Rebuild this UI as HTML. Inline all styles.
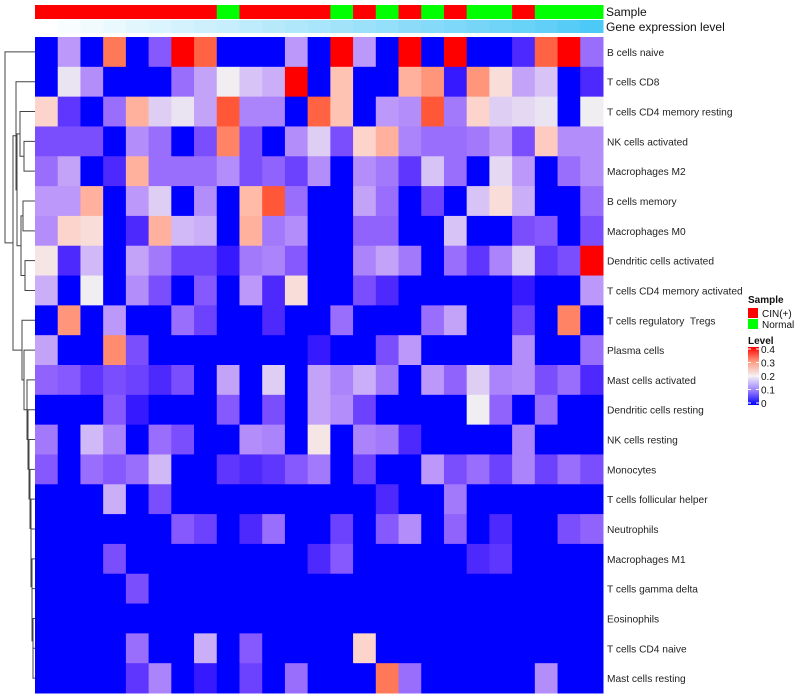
<!DOCTYPE html>
<html><head><meta charset="utf-8">
<style>
body{margin:0;background:#fff;}
svg{display:block;font-family:"Liberation Sans",sans-serif;}
#rowlabels text{white-space:pre;}
</style></head>
<body>
<svg id="chart" width="800" height="700" viewBox="0 0 800 700">
<g id="dendro" stroke="#444" stroke-width="1" fill="none"></g>
<g id="anno"></g>
<g id="cells"></g>
<g id="rowlabels" font-size="10.2" fill="#222"></g>
<text x="606" y="16" font-size="12" fill="#111">Sample</text>
<text x="606" y="31" font-size="12" fill="#111">Gene expression level</text>
<g>
<text x="748" y="303" font-size="10" font-weight="bold" fill="#111">Sample</text>
<rect x="748" y="308" width="10" height="10" fill="#FF0000"/>
<text x="762" y="317" font-size="10" fill="#111">CIN(+)</text>
<rect x="748" y="319" width="10" height="10" fill="#00FF00"/>
<text x="762" y="328" font-size="10" fill="#111">Normal</text>
<text x="748" y="344" font-size="10" font-weight="bold" fill="#111">Level</text>
<defs><linearGradient id="lg" x1="0" y1="0" x2="0" y2="1">
<stop offset="0" stop-color="#FF0000"/><stop offset="0.25" stop-color="#FF9A80"/><stop offset="0.5" stop-color="#F4F0F4"/><stop offset="0.75" stop-color="#9A80FF"/><stop offset="1" stop-color="#0000FF"/></linearGradient></defs>
<rect x="748" y="347" width="11" height="58" fill="url(#lg)"/>
<g id="lticks" font-size="10" fill="#111"></g>
</g>
</svg>
<script>
const rowNames=["B cells naive","T cells CD8","T cells CD4 memory resting","NK cells activated","Macrophages M2","B cells memory","Macrophages M0","Dendritic cells activated","T cells CD4 memory activated","T cells regulatory  Tregs","Plasma cells","Mast cells activated","Dendritic cells resting","NK cells resting","Monocytes","T cells follicular helper","Neutrophils","Macrophages M1","T cells gamma delta","Eosinophils","T cells CD4 naive","Mast cells resting"];
const sampleGroups=["CIN","CIN","CIN","CIN","CIN","CIN","CIN","CIN","Normal","CIN","CIN","CIN","CIN","Normal","CIN","Normal","CIN","Normal","CIN","Normal","Normal","CIN","Normal","Normal","Normal"];
const geneLevel=[0,0.04,0.08,0.12,0.16,0.2,0.24,0.28,0.32,0.36,0.4,0.44,0.48,0.52,0.56,0.6,0.64,0.68,0.72,0.76,0.8,0.84,0.88,0.94,1];
const legendTicks=[0.4,0.3,0.2,0.1,0];
const r0=[0,.12,0,.33,0,.06,.4,.35,0,0,0,.12,0,.4,.12,0,.4,0,.4,0,0,.02,.35,.4,.08];
const r1=[0,.19,.11,0,0,0,.08,.13,.2,.16,.14,.4,0,.25,0,0,.27,.3,.01,.3,.22,.13,.16,0,.02];
const r2=[.23,.03,0,.08,.27,.17,.19,.13,.36,.1,.1,0,.35,.25,0,.12,.11,.36,.09,.23,.17,.18,.19,0,.2];
const r3=[.05,.05,.05,0,.11,.08,0,.05,.32,.05,0,.11,.17,.05,.23,.27,.1,.08,.08,.09,.12,.05,.24,.11,.11];
const r4=[.08,.13,0,.02,.27,.08,.08,.08,.11,.05,.07,.04,.11,0,.11,.09,.03,.16,.08,0,.18,.12,0,.08,.11];
const r5=[.12,.12,.27,0,.12,.17,0,.11,0,.26,.36,.08,0,0,.13,.08,0,.04,0,.16,.22,.14,0,0,.08];
const r6=[.11,.23,.22,0,.02,.27,.15,.14,0,.27,.09,.11,0,0,.07,.07,0,0,.16,0,0,.05,.06,0,.05];
const r7=[.21,.02,.15,0,.13,.09,.04,.04,.01,.09,.1,.06,0,0,.1,.13,.09,0,.08,.03,.1,.17,.03,.05,.4];
const r8=[.14,0,.2,0,.11,.05,0,.06,0,.12,.02,.22,0,0,.05,.02,0,0,0,0,0,.01,0,0,.12];
const r9=[0,.3,0,.12,0,0,.08,.04,0,0,.02,0,0,.08,0,0,0,.08,.13,0,0,.04,0,.32,0];
const r10=[.13,0,0,.31,.05,0,0,0,0,0,0,0,.01,0,0,.05,.12,0,0,0,0,.11,0,0,.08];
const r11=[.07,.06,.03,.05,.04,.02,.05,0,.13,0,.17,0,.13,.1,.14,.09,0,.12,.07,.17,.1,.11,.05,.08,.02];
const r12=[0,0,0,.06,.01,0,0,0,.06,0,.05,0,.13,.11,.04,0,0,0,0,.2,.07,0,.08,0,0];
const r13=[.09,0,.15,.1,0,.08,.05,0,0,.11,.1,0,.21,0,.1,.09,.02,0,0,0,0,.1,0,0,0];
const r14=[.06,0,.08,.06,.08,.15,0,0,.03,.02,.03,.06,.09,0,.04,0,0,.12,.05,.08,.04,.1,.04,.08,.05];
const r15=[0,0,0,.14,0,.05,0,0,0,0,0,0,0,0,0,.02,0,0,.09,0,0,0,0,0,0];
const r16=[0,0,0,0,0,0,.06,.04,0,.02,.08,0,0,.04,0,.06,.11,0,.07,0,.02,0,0,.05,.07];
const r17=[0,0,0,.05,0,0,0,0,0,0,0,0,.02,.06,0,0,0,0,0,.02,.03,0,0,0,0];
const r18=[0,0,0,0,.05,0,0,0,0,0,0,0,0,0,0,0,0,0,0,0,0,0,0,0,0];
const r19=[0,0,0,0,0,0,0,0,0,0,0,0,0,0,0,0,0,0,0,0,0,0,0,0,0];
const r20=[0,0,0,0,.08,0,0,.14,0,.06,0,0,0,0,.23,0,0,0,0,0,0,0,0,0,0];
const r21=[0,0,0,0,.03,.1,0,.01,0,.04,0,.08,0,0,0,.33,.08,0,0,0,0,0,.11,0,0];
const values=[r0,r1,r2,r3,r4,r5,r6,r7,r8,r9,r10,r11,r12,r13,r14,r15,r16,r17,r18,r19,r20,r21];

const NS="http://www.w3.org/2000/svg";
const X0=35,X1=603,Y0=37,Y1=693;
const nC=sampleGroups.length,nR=rowNames.length;
const cw=(X1-X0)/nC,rh=(Y1-Y0)/nR;
const xPos=c=>X0+c*cw, yPos=r=>Y0+r*rh, yMid=r=>Y0+(r+0.5)*rh;
function mk(tag,at,parent){const e=document.createElementNS(NS,tag);for(const k in at)e.setAttribute(k,at[k]);parent.appendChild(e);return e;}
function toLin(c){c/=255;return c<=0.04045?c/12.92:Math.pow((c+0.055)/1.055,2.4);}
function toSrgb(c){c=c<=0.0031308?12.92*c:1.055*Math.pow(c,1/2.4)-0.055;return Math.max(0,Math.min(255,Math.round(c*255)));}
function rgb2lab(r,g,b){r=toLin(r);g=toLin(g);b=toLin(b);
let x=(0.4124*r+0.3576*g+0.1805*b)/0.95047,y=(0.2126*r+0.7152*g+0.0722*b),z=(0.0193*r+0.1192*g+0.9505*b)/1.08883;
const f=t=>t>0.008856?Math.cbrt(t):7.787*t+16/116;x=f(x);y=f(y);z=f(z);return[116*y-16,500*(x-y),200*(y-z)];}
function lab2rgb(L,a,b){let y=(L+16)/116,x=a/500+y,z=y-b/200;const fi=t=>t*t*t>0.008856?t*t*t:(t-16/116)/7.787;
x=fi(x)*0.95047;y=fi(y);z=fi(z)*1.08883;
const r=3.2406*x-1.5372*y-0.4986*z,g=-0.9689*x+1.8758*y+0.0415*z,bb=0.0557*x-0.2040*y+1.0570*z;return`rgb(${toSrgb(r)},${toSrgb(g)},${toSrgb(bb)})`;}
const cB=rgb2lab(0,0,255),cW=rgb2lab(240,238,240),cR=rgb2lab(255,0,0);
function col(v){v=Math.max(0,Math.min(0.4,v));let a,b,t;if(v<=0.2){a=cB;b=cW;t=v/0.2;}else{a=cW;b=cR;t=(v-0.2)/0.2;}
return lab2rgb(a[0]+(b[0]-a[0])*t,a[1]+(b[1]-a[1])*t,a[2]+(b[2]-a[2])*t);}

const cells=document.getElementById('cells');
values.forEach((row,r)=>row.forEach((v,c)=>{
 const e=mk('rect',{x:xPos(c),y:yPos(r),width:cw+0.5,height:rh+0.5,fill:col(v)},cells);
 
 
}));
const anno=document.getElementById('anno');
sampleGroups.forEach((g,c)=>{
 const e=mk('rect',{x:xPos(c),y:5,width:cw+0.5,height:14,fill:g==="CIN"?"#FF0000":"#00FF00"},anno);
 
 
});
geneLevel.forEach((g,c)=>{
 const r=Math.round(255+(76-255)*g),gg=Math.round(255+(201-255)*g),b=Math.round(255+(246-255)*g);
 const e=mk('rect',{x:xPos(c),y:20,width:cw+0.5,height:13,fill:`rgb(${r},${gg},${b})`},anno);
 
 
});
const rl=document.getElementById('rowlabels');
rowNames.forEach((n,r)=>{
 const e=mk('text',{x:607,y:yMid(r)+4},rl);e.textContent=n;
 
 
});
const lt=document.getElementById('lticks');
legendTicks.forEach(t=>{
 const y=349+(0.4-t)/0.4*54;
 const ln=mk('line',{x1:748,x2:751,y1:y,y2:y,stroke:'#fff'},lt);
 
 
 const ln2=mk('line',{x1:756,x2:759,y1:y,y2:y,stroke:'#fff'},lt);
 
 
 const e=mk('text',{x:761,y:y+4},lt);e.textContent=String(t);
 
 
});
const dg=document.getElementById('dendro');
function leaf(i){return{y:yMid(i),x:X0};}
function join(a,b,x){const p=mk('path',{d:`M${a.x},${a.y}H${x}V${b.y}H${b.x}`},dg);
 
 
 return{x:x,y:(a.y+b.y)/2};}
const n34=join(leaf(3),leaf(4),24);
const n234=join(leaf(2),n34,20);
const n56=join(leaf(5),leaf(6),23);
const n78=join(leaf(7),leaf(8),25);
const n5678=join(n56,n78,21);
const n2_8=join(n234,n5678,17);
const nB=join(leaf(1),n2_8,16);
let chain=join(leaf(20),leaf(21),33);
const lx=[22,24,27,28,29,30,31,31,32,32,33];
for(let i=19;i>=9;i--){chain=join(leaf(i),chain,lx[i-9]);}
const nA=join(nB,chain,13);
join(leaf(0),nA,5);
</script>
</body></html>
